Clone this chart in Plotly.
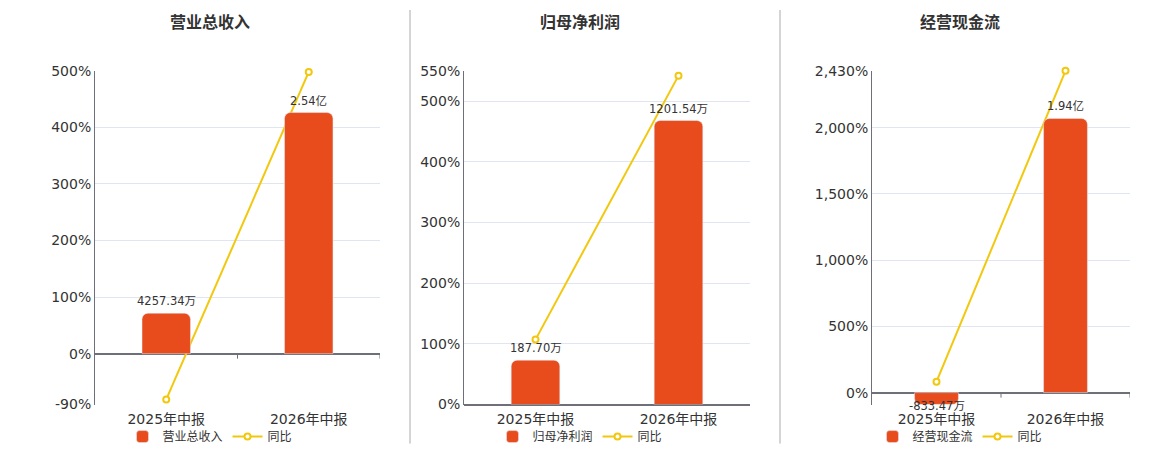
import plotly.graph_objects as go

# data (bar values in 万, yoy in %)
categories = ["2025年中报", "2026年中报"]
titles = ["营业总收入", "归母净利润", "经营现金流"]

revenue = [4257.34, 25400]
revenue_text = ["4257.34万", "2.54亿"]
revenue_yoy = [-81, 498]

profit = [187.70, 1201.54]
profit_text = ["187.70万", "1201.54万"]
profit_yoy = [107, 542]

cash = [-833.47, 19400]
cash_text = ["-833.47万", "1.94亿"]
cash_yoy = [83, 2430]

W, H = 1160, 450
bar_color = "#e84c1d"
line_color = "#f2c80f"
axis_color = "#6e7079"
grid_color = "#e0e6f1"
font_fam = "DejaVu Sans, Noto Sans CJK SC, sans-serif"


# screen px -> paper fraction (page shows the figure a bit shifted)
def fx(x):
    return (x - 8) / W


def fy(y):
    return 1 - (y - 16) / 433.4


# per panel: plot area in px, percent axis range/ticks, hidden bar axis range
panels = [
    dict(x0=95, x1=380, tx=210, rng=[-90, 500], ticks=[-90, 0, 100, 200, 300, 400, 500],
         bar_rng=[-90 * 59.6, 500 * 59.6], bars=revenue, text=revenue_text, yoy=revenue_yoy),
    dict(x0=464, x1=750, tx=580, rng=[0, 550], ticks=[0, 100, 200, 300, 400, 500, 550],
         bar_rng=[0, 1412], bars=profit, text=profit_text, yoy=profit_yoy),
    dict(x0=872, x1=1130, tx=960, rng=[-90, 2430], ticks=[0, 500, 1000, 1500, 2000, 2430],
         bar_rng=[-90 * 9.37, 2430 * 9.37], bars=cash, text=cash_text, yoy=cash_yoy),
]
y_top, y_bot = 70.7, 404

fig = go.Figure()
layout = dict(
    width=W, height=H, margin=dict(l=0, r=0, t=0, b=0),
    paper_bgcolor="white", plot_bgcolor="white",
    font=dict(family=font_fam, color="#333333"),
    barmode="group",
)
shapes = []
annotations = []

for i, p in enumerate(panels):
    n = i + 1
    xa = "x" if n == 1 else "x%d" % n
    ya = "y" if n == 1 else "y%d" % n
    yb = "y%d" % (n + 3)
    leg = "legend" if n == 1 else "legend%d" % n

    fig.add_trace(go.Bar(
        x=categories, y=p["bars"], name=titles[i], xaxis=xa, yaxis=yb,
        marker=dict(color=bar_color, cornerradius=6), width=0.34,
        legend=leg,
    ))
    fig.add_trace(go.Scatter(
        x=categories, y=p["yoy"], name="同比", xaxis=xa, yaxis=ya,
        mode="lines+markers", line=dict(color=line_color, width=2),
        marker=dict(symbol="circle", size=6, color="white",
                    line=dict(color=line_color, width=2)),
        cliponaxis=False, legend=leg,
    ))

    # value labels above (or just below, if negative) each bar
    for c, v, t in zip(categories, p["bars"], p["text"]):
        annotations.append(dict(
            text=t, x=c, y=v, xref=xa, yref=yb, showarrow=False,
            xanchor="center", yanchor="bottom" if v >= 0 else "middle",
            yshift=3 if v >= 0 else -2,
            font=dict(size=11.5, color="#333333"),
        ))

    dom_x = [fx(p["x0"]), fx(p["x1"])]
    dom_y = [fy(y_bot), fy(y_top)]
    layout["xaxis" if n == 1 else "xaxis%d" % n] = dict(
        domain=dom_x, anchor=ya, type="category", range=[-0.5, 1.5],
        showline=False, showgrid=False, ticks="", ticklabelstandoff=4,
        tickfont=dict(size=14, color="#333333"),
    )
    layout["yaxis" if n == 1 else "yaxis%d" % n] = dict(
        domain=dom_y, anchor=xa, range=p["rng"], tickvals=p["ticks"],
        ticktext=["{:,}%".format(v) for v in p["ticks"]],
        showline=True, linecolor=axis_color, linewidth=1,
        showgrid=True, gridcolor=grid_color, gridwidth=1,
        zeroline=True, zerolinecolor=axis_color, zerolinewidth=2,
        ticks="", tickfont=dict(size=14, color="#333333"),
    )
    layout["yaxis%d" % (n + 3)] = dict(
        domain=dom_y, anchor=xa, overlaying=ya, range=p["bar_rng"],
        visible=False, showgrid=False, zeroline=False,
    )
    layout[leg] = dict(
        orientation="h", x=fx(p["tx"]), xanchor="center",
        y=fy(436), yanchor="middle", font=dict(size=12, color="#333333"),
        bgcolor="rgba(0,0,0,0)", itemwidth=30, tracegroupgap=0,
    )
    annotations.append(dict(
        text="<b>%s</b>" % titles[i], x=fx(p["tx"]), y=fy(22),
        xref="paper", yref="paper", showarrow=False,
        xanchor="center", yanchor="middle",
        font=dict(size=16, color="#333333"),
    ))
    # small category ticks on the zero line
    for xv in [0.5, 1.5]:
        shapes.append(dict(
            type="line", xref=xa, yref=ya, x0=xv, x1=xv, y0=0, y1=-5,
            ysizemode="pixel", yanchor=0, line=dict(color=axis_color, width=1),
        ))

# vertical separators between panels
for sx in [410, 780]:
    shapes.append(dict(
        type="line", xref="paper", yref="paper", x0=fx(sx), x1=fx(sx),
        y0=fy(10), y1=fy(443), line=dict(color="#aaaaaa", width=1),
    ))

layout["shapes"] = shapes
layout["annotations"] = annotations
fig.update_layout(**layout)

fig.write_html("out.html")
